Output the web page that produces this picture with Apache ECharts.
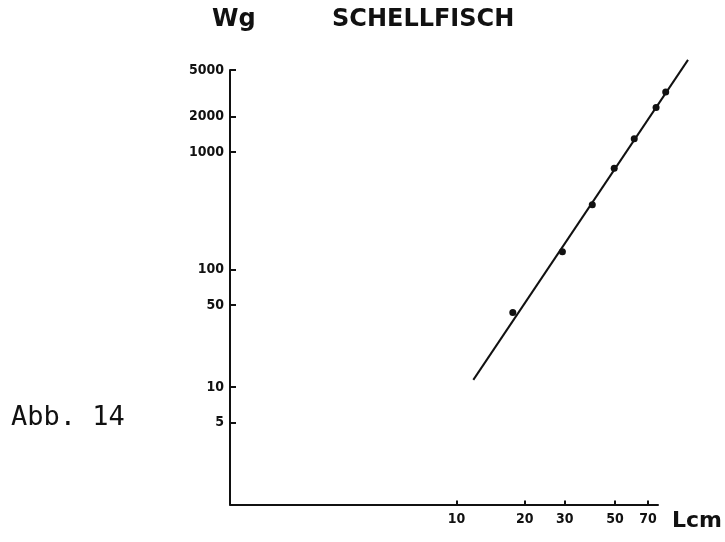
<!DOCTYPE html>
<html>
<head>
<meta charset="utf-8">
<script src="https://cdn.jsdelivr.net/npm/echarts@6/dist/echarts.min.js"></script>
<style>
  html, body { margin: 0; padding: 0; background: #fff; }
  #chart { width: 725px; height: 542px; }
</style>
</head>
<body>
<div id="chart"></div>
<script>
// Length–weight relation of haddock (Schellfisch), log–log scale
const lengthCm = [17.7, 29.3, 39.7, 49.6, 60.8, 75.9, 83.7];
const weightG  = [43, 142, 356, 730, 1300, 2400, 3250];

// fitted regression line, drawn between its two end points
const lineLengthCm = [11.85, 105];
const lineWeightG  = [11.5, 6100];

// axis tick values
const xTicks = [10, 20, 30, 50, 70];
const yTicks = [5, 10, 50, 100, 1000, 2000, 5000];

const labelFont = "'Liberation Sans Narrow', 'DejaVu Sans Condensed', sans-serif";
const ink = '#111';

const chart = echarts.init(document.getElementById('chart'), null, { renderer: 'canvas' });

const points = lengthCm.map((l, i) => [l, weightG[i]]);
const fitLine = lineLengthCm.map((l, i) => [l, lineWeightG[i]]);

chart.setOption({
  animation: false,
  backgroundColor: '#ffffff',
  grid: { left: 230, right: 67, top: 70, bottom: 37.5, containLabel: false },
  xAxis: {
    type: 'log',
    logBase: 10,
    min: 1,
    max: 77.4,
    splitLine: { show: false },
    axisLine: { show: true, lineStyle: { color: ink, width: 2 } },
    axisTick: {
      show: true, inside: true, length: 4, customValues: xTicks,
      lineStyle: { color: ink, width: 2 }
    },
    axisLabel: {
      show: true, customValues: xTicks, margin: 8,
      color: ink, fontFamily: labelFont, fontWeight: 'bold', fontSize: 14,
      formatter: v => String(Math.round(v))
    },
    minorTick: { show: false }
  },
  yAxis: {
    type: 'log',
    logBase: 10,
    min: 1,
    max: 5000,
    splitLine: { show: false },
    axisLine: { show: true, lineStyle: { color: ink, width: 2 } },
    axisTick: {
      show: true, inside: true, length: 6, customValues: yTicks,
      lineStyle: { color: ink, width: 2 }
    },
    axisLabel: {
      show: true, customValues: yTicks, margin: 6,
      color: ink, fontFamily: labelFont, fontWeight: 'bold', fontSize: 14,
      formatter: v => String(Math.round(v))
    },
    minorTick: { show: false }
  },
  series: [
    {
      // regression line runs past the axis ends, so it is not clipped
      type: 'lines',
      coordinateSystem: 'cartesian2d',
      clip: false,
      silent: true,
      data: [{ coords: fitLine }],
      lineStyle: { color: ink, width: 2, opacity: 1, curveness: 0 }
    },
    {
      type: 'scatter',
      data: points,
      clip: false,
      symbol: 'circle',
      symbolSize: 7,
      itemStyle: { color: ink, opacity: 1 }
    }
  ],
  graphic: [
    {
      type: 'text', x: 212, y: 20,
      style: { text: 'Wg', font: "bold 24px 'DejaVu Sans'", fill: ink, align: 'left', verticalAlign: 'middle' }
    },
    {
      type: 'text', x: 332, y: 20,
      style: { text: 'SCHELLFISCH', font: "bold 24px 'DejaVu Sans'", fill: ink, align: 'left', verticalAlign: 'middle' }
    },
    {
      type: 'text', x: 672, y: 521,
      style: { text: 'Lcm', font: "bold 22px 'DejaVu Sans'", fill: ink, align: 'left', verticalAlign: 'middle' }
    },
    {
      type: 'text', x: 11, y: 418,
      style: { text: 'Abb. 14', font: "27px 'DejaVu Sans Mono'", fill: ink, align: 'left', verticalAlign: 'middle' }
    }
  ]
});
</script>
</body>
</html>
